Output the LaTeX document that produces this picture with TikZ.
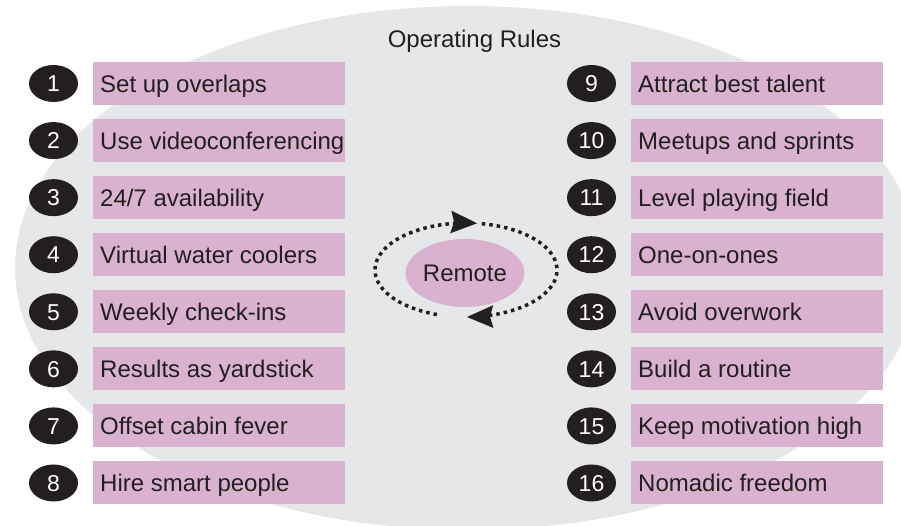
\documentclass[tikz,border=0pt]{standalone}
\usepackage{fontspec}
\setmainfont{Liberation Sans}
\usetikzlibrary{shapes.geometric,arrows.meta}
\definecolor{bgGray}{HTML}{E6E7E8}
\definecolor{rulePink}{HTML}{D8B2CE}
\definecolor{inkDark}{HTML}{231F20}
\newcommand{\rulelabel}[1]{\makebox[238pt][l]{#1}}
\begin{document}
\begin{tikzpicture}[x=1pt,y=-1pt,
  rulebox/.style={rectangle, fill=rulePink, anchor=west, minimum height=43pt,
    minimum width=252pt, inner xsep=7pt, inner ysep=0pt, text height=17.2pt,
    text depth=0pt, font=\fontsize{24}{28}\selectfont, text=inkDark},
  numbadge/.style={ellipse, fill=inkDark, minimum width=49pt, minimum height=37pt,
    inner sep=0pt, text=white, font=\fontsize{23}{26}\selectfont,
    text height=16.5pt, text depth=0pt},
  hub/.style={ellipse, fill=rulePink, minimum width=114pt, minimum height=68pt,
    inner sep=0pt, text=inkDark, font=\fontsize{24}{28}\selectfont,
    text height=17.2pt, text depth=0pt},
  cycleline/.style={draw=inkDark, line width=3.5pt, dash pattern=on 3.5pt off 4pt,
    -{Stealth[length=26pt,width=22pt,inset=3pt]}},
  heading/.style={text=inkDark, font=\fontsize{24}{28}\selectfont, anchor=base}]
\useasboundingbox (0,0) rectangle (901,526);
\clip (0,0) rectangle (901,526);

% background disc
\fill[bgGray] (468,268) ellipse[x radius=453, y radius=262];

\node[heading] (title) at (474.5,48) {Operating Rules};

% left column of rules
\foreach \t [count=\i] in {Set up overlaps, Use videoconferencing, {24/7 availability},
    Virtual water coolers, Weekly check-ins, Results as yardstick,
    Offset cabin fever, Hire smart people}{
  \pgfmathsetmacro\yy{83.5+(\i-1)*57.07}
  \node[numbadge] (num\i) at (53.5,\yy) {\i};
  \node[rulebox] (box\i) at (93,\yy) {\rulelabel{\t}};
}

% right column of rules
\foreach \t [count=\i] in {Attract best talent, Meetups and sprints, Level playing field,
    One-on-ones, Avoid overwork, Build a routine, Keep motivation high,
    Nomadic freedom}{
  \pgfmathsetmacro\yy{83.5+(\i-1)*57.07}
  \pgfmathtruncatemacro\k{\i+8}
  \node[numbadge] (num\k) at (591.5,\yy) {\k};
  \node[rulebox] (box\k) at (631,\yy) {\rulelabel{\t}};
}

% central hub with its cycle
\node[hub] (remote) at (465,273) {Remote};
\draw[cycleline] plot[domain=108.6:277, samples=80]
  ({466+91*cos(\x)}, {270+47*sin(\x)});
\draw[cycleline] plot[domain=-80:89.4, samples=80]
  ({466+91*cos(\x)}, {270+47*sin(\x)});
\end{tikzpicture}
\end{document}
